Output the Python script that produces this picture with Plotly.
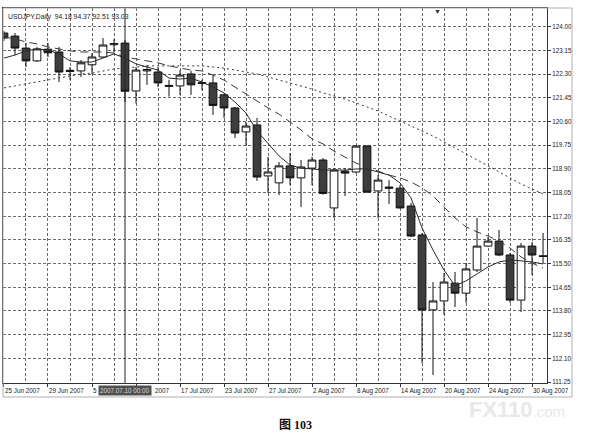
import plotly.graph_objects as go

# ---------------- data ----------------
dates = [
    "2007-06-25", "2007-06-26", "2007-06-27", "2007-06-28", "2007-06-29",
    "2007-07-02", "2007-07-03", "2007-07-04", "2007-07-05", "2007-07-06",
    "2007-07-09", "2007-07-10", "2007-07-11", "2007-07-12", "2007-07-13",
    "2007-07-16", "2007-07-17", "2007-07-18", "2007-07-19", "2007-07-20",
    "2007-07-23", "2007-07-24", "2007-07-25", "2007-07-26", "2007-07-27",
    "2007-07-30", "2007-07-31", "2007-08-01", "2007-08-02", "2007-08-03",
    "2007-08-06", "2007-08-07", "2007-08-08", "2007-08-09", "2007-08-10",
    "2007-08-13", "2007-08-14", "2007-08-15", "2007-08-16", "2007-08-17",
    "2007-08-20", "2007-08-21", "2007-08-22", "2007-08-23", "2007-08-24",
    "2007-08-27", "2007-08-28", "2007-08-29", "2007-08-30", "2007-08-31",
]

open_ = [123.78, 123.67, 123.24, 122.78, 123.20, 123.10, 122.40, 122.42, 122.64, 122.92,
         123.36, 123.42, 121.70, 122.42, 122.38, 121.90, 121.88, 122.31, 122.00, 121.99,
         121.56, 121.09, 120.23, 120.48, 118.65, 118.40, 119.01, 118.58, 118.93, 119.22,
         117.50, 118.82, 118.79, 119.72, 118.11, 118.25, 118.21, 117.57, 116.53, 113.84,
         114.16, 114.80, 114.44, 115.27, 116.13, 116.31, 115.81, 114.19, 116.13, 115.78]
high = [123.85, 123.78, 123.42, 123.28, 123.42, 123.28, 122.56, 122.81, 123.06, 123.60,
        123.56, 123.53, 122.56, 122.63, 122.56, 122.10, 122.45, 122.42, 122.10, 122.27,
        121.60, 121.12, 120.59, 120.73, 119.33, 119.15, 119.47, 119.22, 119.33, 119.29,
        118.93, 118.93, 119.76, 119.76, 118.68, 118.50, 118.32, 117.68, 116.60, 114.84,
        115.16, 115.20, 115.52, 117.14, 116.46, 116.71, 115.88, 116.24, 116.28, 116.60]
low = [123.50, 122.99, 122.56, 122.74, 122.92, 122.02, 122.10, 122.20, 122.30, 122.88,
       123.07, 121.30, 121.25, 121.92, 121.84, 121.50, 121.56, 121.56, 121.73, 120.84,
       120.73, 120.01, 119.76, 118.47, 118.04, 117.96, 118.32, 117.53, 118.32, 117.98,
       117.14, 117.93, 118.75, 118.04, 117.14, 117.64, 117.48, 116.45, 111.93, 111.50,
       113.66, 113.94, 114.09, 115.20, 116.10, 115.77, 114.09, 113.76, 115.09, 115.52]
close = [123.60, 123.24, 122.78, 123.21, 123.07, 122.38, 122.44, 122.71, 122.92, 123.35,
         123.40, 121.69, 122.45, 122.47, 121.99, 121.87, 122.27, 121.92, 121.97, 121.18,
         121.09, 120.19, 120.44, 118.61, 118.79, 119.01, 118.58, 118.97, 119.22, 118.02,
         118.86, 118.75, 119.72, 118.07, 118.50, 118.21, 117.50, 116.49, 113.84, 114.16,
         114.84, 114.44, 115.31, 116.13, 116.31, 115.81, 114.19, 116.13, 115.81, 115.76]

# moving-average lines as seen on the chart
ma_fast = [122.88, 122.99, 123.14, 123.21, 123.17, 123.03, 122.78, 122.74, 122.74, 122.88,
           123.03, 122.88, 122.67, 122.56, 122.45, 122.16, 122.13, 122.16, 122.02, 121.84,
           121.63, 121.30, 120.91, 120.26, 119.80, 119.37, 119.04, 118.93, 118.90, 118.86,
           118.86, 118.86, 118.90, 118.90, 118.79, 118.68, 118.40, 117.86, 116.78, 115.99,
           115.27, 114.70, 114.88, 115.13, 115.38, 115.56, 115.63, 115.60, 115.56, 115.49]
ma_mid = [123.64, 123.57, 123.46, 123.39, 123.28, 123.21, 123.14, 123.10, 123.10, 123.10,
          123.06, 122.92, 122.85, 122.78, 122.71, 122.60, 122.53, 122.45, 122.42, 122.27,
          122.09, 121.84, 121.56, 121.34, 121.09, 120.87, 120.59, 120.30, 119.98, 119.80,
          119.54, 119.33, 119.11, 118.97, 118.83, 118.68, 118.58, 118.43, 118.22, 117.93,
          117.53, 117.14, 116.82, 116.64, 116.49, 116.31, 116.06, 115.74, 115.52, 115.34]
ma_slow = [121.81, 121.88, 121.95, 122.02, 122.09, 122.16, 122.24, 122.31, 122.34, 122.42,
           122.49, 122.52, 122.56, 122.60, 122.60, 122.60, 122.60, 122.60, 122.60, 122.56,
           122.52, 122.45, 122.38, 122.31, 122.20, 122.09, 121.99, 121.88, 121.77, 121.63,
           121.52, 121.41, 121.27, 121.12, 120.98, 120.80, 120.62, 120.44, 120.26, 120.08,
           119.87, 119.65, 119.44, 119.22, 119.01, 118.79, 118.58, 118.36, 118.18, 118.00]

x_tick_dates = ["2007-06-25", "2007-06-29", "2007-07-05", "2007-07-11", "2007-07-17",
                "2007-07-23", "2007-07-27", "2007-08-02", "2007-08-08", "2007-08-14",
                "2007-08-20", "2007-08-24", "2007-08-30"]
# labels as visible on the chart (two of them are partly covered by the cursor date box)
x_tick_labels = ["25 Jun 2007", "29 Jun 2007", "5", "2007", "17 Jul 2007",
                 "23 Jul 2007", "27 Jul 2007", "2 Aug 2007", "8 Aug 2007", "14 Aug 2007",
                 "20 Aug 2007", "24 Aug 2007", "30 Aug 2007"]
x_label_shift = [0, 0, 0, 18, 0, 0, 0, 0, 0, 0, 0, 0, 0]
y_ticks = [124.00, 123.15, 122.30, 121.45, 120.60, 119.75, 118.90, 118.05,
           117.20, 116.35, 115.50, 114.65, 113.80, 112.95, 112.10, 111.25]

cursor_date = "2007-07-10"
cursor_label = "2007.07.10 00:00"
header_text = "USDJPY,Daily\u00a0\u00a094.18 94.37 92.51 93.03"
caption = "图 103"

# ---------------- figure ----------------
xs = list(range(len(dates)))
tick_pos = [dates.index(d) for d in x_tick_dates]
cursor_pos = dates.index(cursor_date)

GRID = "#6a6a6a"
LINE = "#333333"
TXT = "#222222"
FS = 6.3

fig = go.Figure()
fig.add_trace(go.Candlestick(
    x=xs, open=open_, high=high, low=low, close=close,
    increasing=dict(line=dict(color="#111111", width=1), fillcolor="#ffffff"),
    decreasing=dict(line=dict(color="#111111", width=1), fillcolor="#3d3d3d"),
    whiskerwidth=0, showlegend=False, hoverinfo="skip"))
fig.add_trace(go.Scatter(x=xs, y=ma_slow, mode="lines",
                         line=dict(color="#3a3a3a", width=1, dash="2px,3px"),
                         showlegend=False, hoverinfo="skip"))
fig.add_trace(go.Scatter(x=xs, y=ma_mid, mode="lines",
                         line=dict(color="#3a3a3a", width=1, dash="8px,5px"),
                         showlegend=False, hoverinfo="skip"))
fig.add_trace(go.Scatter(x=xs, y=ma_fast, mode="lines",
                         line=dict(color="#2a2a2a", width=1),
                         showlegend=False, hoverinfo="skip"))

fig.update_layout(
    width=592, height=440,
    margin=dict(l=3, r=45, t=8, b=57),
    paper_bgcolor="white", plot_bgcolor="white",
    showlegend=False, boxgap=0.3, boxgroupgap=0, hovermode=False,
    font=dict(family="Liberation Sans, Arial, sans-serif", size=FS, color=TXT),
)
fig.update_xaxes(
    range=[-0.09, 49.36], rangeslider_visible=False,
    tickmode="array", tickvals=tick_pos, showticklabels=False,
    ticks="outside", ticklen=3, tickcolor=LINE,
    showgrid=True, gridcolor=GRID, griddash="3px,2px", gridwidth=1,
    minor=dict(tickmode="linear", tick0=0, dtick=2, showgrid=True,
               gridcolor=GRID, griddash="3px,2px", gridwidth=1, ticks=""),
    showline=True, linecolor=LINE, linewidth=1, mirror=True, zeroline=False,
)
fig.update_yaxes(
    range=[111.214, 124.679], side="right",
    tickmode="array", tickvals=y_ticks, ticktext=[f"{v:.2f}" for v in y_ticks],
    ticks="outside", ticklen=3, tickcolor=LINE,
    showgrid=True, gridcolor=GRID, griddash="3px,2px", gridwidth=1,
    showline=True, linecolor=LINE, linewidth=1, mirror=True, zeroline=False,
    tickfont=dict(size=FS, color=TXT),
)

# cursor line
fig.add_shape(type="line", xref="x", yref="paper", x0=cursor_pos, x1=cursor_pos,
              y0=0, y1=1, line=dict(color="#222222", width=1))
# outer picture frame
fig.add_shape(type="rect", xref="paper", yref="paper", x0=0, x1=1.046, y0=-0.0373, y1=1,
              line=dict(color="#b0b0b0", width=1))

annotations = []
# watermark
annotations.append(dict(xref="paper", yref="paper", x=0.945, y=-0.07, xanchor="center",
                        yanchor="middle", showarrow=False,
                        text="<b>FX110</b><span style='font-size:15px'>.com</span>",
                        font=dict(size=22, color="#e8e8e8", family="Liberation Sans, Arial")))
for pos, lab, sh in zip(tick_pos, x_tick_labels, x_label_shift):
    annotations.append(dict(x=pos, xref="x", y=0, yref="paper", xanchor="left",
                            yanchor="top", yshift=-2, xshift=-1 + sh, text=lab,
                            showarrow=False, font=dict(size=FS, color=TXT)))
annotations.append(dict(x=cursor_pos, xref="x", y=0, yref="paper", xanchor="center",
                        yanchor="top", yshift=-2, text=cursor_label, showarrow=False,
                        bgcolor="#505050", borderpad=1,
                        font=dict(size=FS, color="#d8d8d8")))
annotations.append(dict(xref="paper", yref="paper", x=0, y=1, xanchor="left", yanchor="top",
                        xshift=3, yshift=-3, text=header_text, showarrow=False,
                        font=dict(size=6.8, color=TXT)))
annotations.append(dict(xref="paper", yref="paper", x=0.798, y=1, xanchor="center",
                        yanchor="top", yshift=2, text="▼", showarrow=False,
                        font=dict(size=7, color="#333333")))
annotations.append(dict(xref="paper", yref="paper", x=0.5386, y=-0.112, xanchor="center",
                        yanchor="middle", text="<b>" + caption + "</b>", showarrow=False,
                        font=dict(size=12, color="#111111",
                                  family="Liberation Serif, Noto Sans CJK SC, serif")))
fig.update_layout(annotations=annotations)

fig.write_html("out.html", config={"displayModeBar": False, "staticPlot": True},
               post_script="document.body.style.margin='0';document.body.style.overflow='hidden';")
